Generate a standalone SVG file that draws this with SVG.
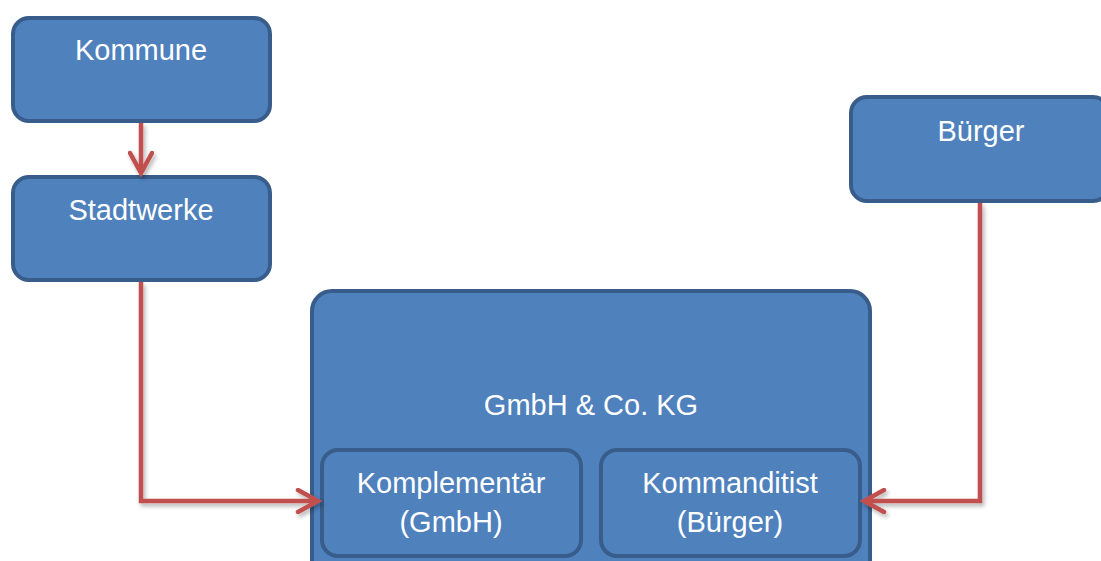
<svg xmlns="http://www.w3.org/2000/svg" width="1101" height="561" viewBox="0 0 1101 561">
<style>
.box{fill:#4f81bd;stroke:#385d8a;stroke-width:4}
.lbl{font-family:"Liberation Sans",Arial,sans-serif;font-size:29px;fill:#ffffff;text-anchor:middle}
.con{fill:none;stroke:#c0504d;stroke-width:4.5;stroke-linejoin:miter}
</style>
<defs>
<marker id="arr" viewBox="0 0 28 26" refX="24" refY="13" markerWidth="28" markerHeight="26" markerUnits="userSpaceOnUse" orient="auto">
<path d="M4,2 L24,13 L4,24" fill="none" stroke="#c0504d" stroke-width="4.5" stroke-linecap="round" stroke-linejoin="miter"/>
</marker>
<filter id="sh" x="-10%" y="-10%" width="130%" height="130%">
<feGaussianBlur in="SourceAlpha" stdDeviation="2"/>
<feOffset dx="2" dy="3" result="b"/>
<feComponentTransfer><feFuncA type="linear" slope="0.3"/></feComponentTransfer>
<feMerge><feMergeNode/><feMergeNode in="SourceGraphic"/></feMerge>
</filter>
</defs>
<rect width="1101" height="561" fill="#ffffff"/>
<g id="kommune">
<rect class="box" x="13" y="18" width="257" height="103" rx="16"/>
<text class="lbl" x="141" y="60">Kommune</text>
</g>
<g id="stadtwerke">
<rect class="box" x="13" y="177" width="257" height="103" rx="16"/>
<text class="lbl" x="141" y="220">Stadtwerke</text>
</g>
<g id="buerger">
<rect class="box" x="851" y="97" width="258" height="104" rx="16"/>
<text class="lbl" x="981" y="141">Bürger</text>
</g>
<g id="gmbh-co-kg">
<rect class="box" x="312" y="291" width="558" height="290" rx="20"/>
<text class="lbl" x="591" y="415">GmbH &amp; Co. KG</text>
</g>
<g id="komplementaer">
<rect class="box" x="322" y="450" width="259" height="106" rx="16"/>
<text class="lbl" x="451" y="493">Komplementär</text>
<text class="lbl" x="451" y="532">(GmbH)</text>
</g>
<g id="kommanditist">
<rect class="box" x="601" y="450" width="259" height="106" rx="16"/>
<text class="lbl" x="730" y="493">Kommanditist</text>
<text class="lbl" x="730" y="532">(Bürger)</text>
</g>
<g id="connectors" filter="url(#sh)">
<path class="con" d="M141,123 L141,173" marker-end="url(#arr)"/>
<path class="con" d="M141,282 L141,501 L318,501" marker-end="url(#arr)"/>
<path class="con" d="M980,203 L980,501 L864,501" marker-end="url(#arr)"/>
</g>
</svg>
